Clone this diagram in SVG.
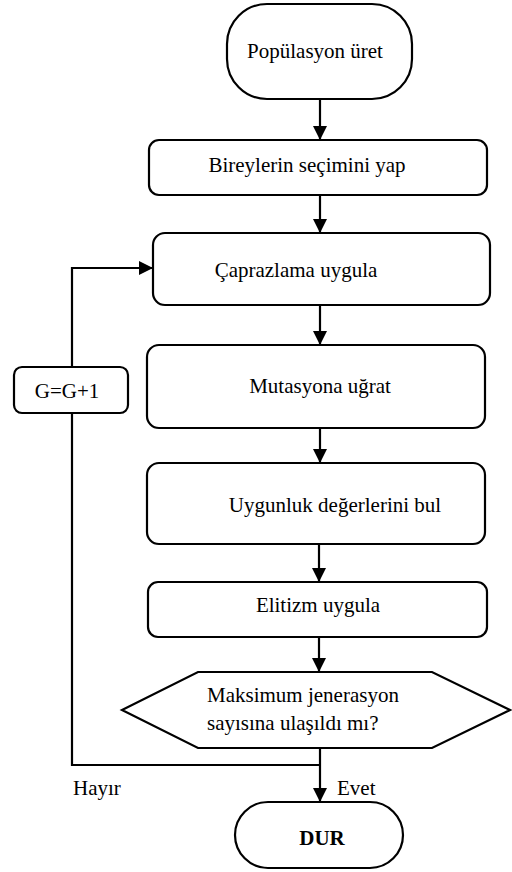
<svg xmlns="http://www.w3.org/2000/svg" width="512" height="872" viewBox="0 0 512 872">
<style>
.n{fill:#fff;stroke:#000;stroke-width:2.2}
.c{fill:none;stroke:#000;stroke-width:2.2}
text{font-size:21px;fill:#000}
.m{text-anchor:middle}
</style>
<defs>
<marker id="ah" markerUnits="userSpaceOnUse" markerWidth="14" markerHeight="14" refX="14" refY="7" orient="auto">
<path d="M0,0 L14,7 L0,14 Z" fill="#000"/>
</marker>
</defs>
<g font-family="Liberation Serif, serif">
<g id="connectors">
<line class="c" x1="320" y1="99" x2="320" y2="140" marker-end="url(#ah)"/>
<line class="c" x1="320" y1="195" x2="320" y2="233" marker-end="url(#ah)"/>
<line class="c" x1="320" y1="305" x2="320" y2="345" marker-end="url(#ah)"/>
<line class="c" x1="320" y1="428" x2="320" y2="463" marker-end="url(#ah)"/>
<line class="c" x1="319" y1="544" x2="319" y2="582" marker-end="url(#ah)"/>
<line class="c" x1="319" y1="637" x2="319" y2="672" marker-end="url(#ah)"/>
<line class="c" x1="320" y1="748" x2="320" y2="802" marker-end="url(#ah)"/>
<polyline class="c" points="72,413 72,765 320,765"/>
<polyline class="c" points="72,367 72,268 153,268" marker-end="url(#ah)"/>
<text x="73" y="795">Hayır</text>
<text x="337" y="795">Evet</text>
</g>
<g id="start">
<rect class="n" x="227" y="4" width="185" height="95" rx="40" ry="40"/>
<text class="m" x="315" y="58">Popülasyon üret</text>
</g>
<g id="select">
<rect class="n" x="149" y="140" width="338" height="55" rx="10"/>
<text class="m" x="307" y="172">Bireylerin seçimini yap</text>
</g>
<g id="crossover">
<rect class="n" x="153" y="233" width="337" height="72" rx="12"/>
<text class="m" x="296" y="277">Çaprazlama uygula</text>
</g>
<g id="mutation">
<rect class="n" x="147" y="345" width="338" height="83" rx="12"/>
<text class="m" x="320" y="393">Mutasyona uğrat</text>
</g>
<g id="fitness">
<rect class="n" x="147" y="463" width="338" height="81" rx="12"/>
<text class="m" x="335" y="512">Uygunluk değerlerini bul</text>
</g>
<g id="elitism">
<rect class="n" x="148" y="582" width="339" height="55" rx="10"/>
<text class="m" x="318" y="612">Elitizm uygula</text>
</g>
<g id="decision">
<polygon class="n" points="198,672 432,672 510,710 432,748 198,748 122,710"/>
<text x="207" y="702">Maksimum jenerasyon</text>
<text x="207" y="730">sayısına ulaşıldı mı?</text>
</g>
<g id="inc">
<rect class="n" x="14" y="367" width="114" height="46" rx="8"/>
<text class="m" x="67" y="398">G=G+1</text>
</g>
<g id="stop">
<rect class="n" x="235" y="802" width="168" height="66" rx="33"/>
<text class="m" x="322" y="845" font-weight="bold">DUR</text>
</g>
</g>
</svg>
